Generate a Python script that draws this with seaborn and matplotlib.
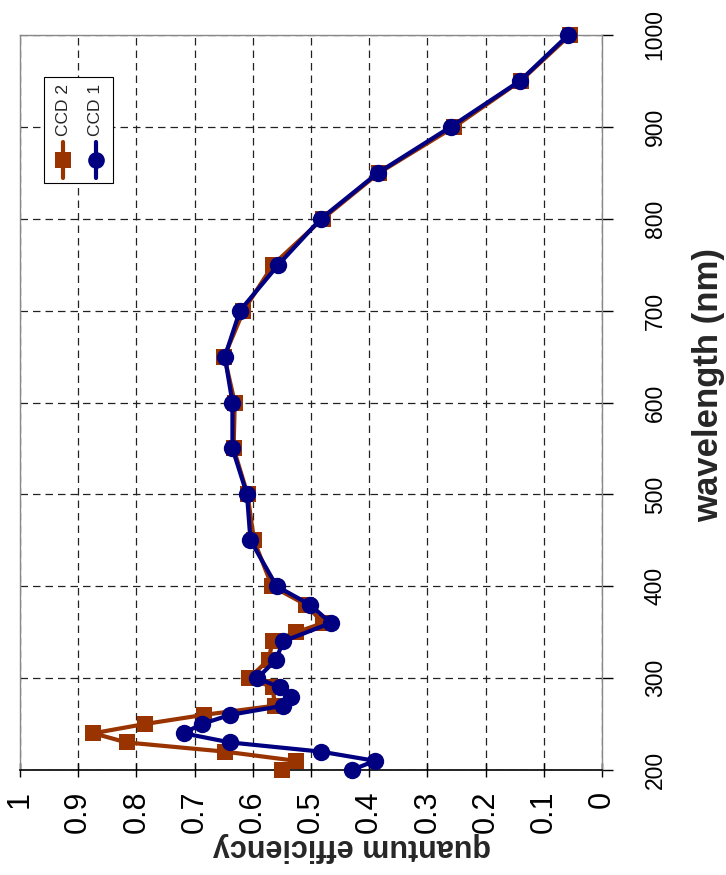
import matplotlib
matplotlib.use("Agg")
import matplotlib.pyplot as plt
import pandas as pd
import seaborn as sns
from matplotlib.lines import Line2D
from matplotlib.patches import Rectangle

# Quantum efficiency of the two CCDs versus wavelength (nm)
wl_ccd1 = [200, 210, 220, 230, 240, 250, 260, 270, 280, 290, 300, 320, 340, 360,
           380, 400, 450, 500, 550, 600, 650, 700, 750, 800, 850, 900, 950, 1000]
qe_ccd1 = [0.43, 0.39, 0.483, 0.639, 0.719, 0.688, 0.639, 0.548, 0.535, 0.554,
           0.592, 0.560, 0.548, 0.466, 0.502, 0.559, 0.604, 0.610, 0.635, 0.635,
           0.648, 0.622, 0.556, 0.483, 0.385, 0.260, 0.141, 0.058]

wl_ccd2 = [200, 210, 220, 230, 240, 250, 260, 270, 290, 300, 320, 340, 350, 360,
           380, 400, 450, 500, 550, 600, 650, 700, 750, 800, 850, 900, 950, 1000]
qe_ccd2 = [0.550, 0.526, 0.648, 0.817, 0.874, 0.786, 0.684, 0.562, 0.566, 0.606,
           0.573, 0.566, 0.525, 0.479, 0.509, 0.567, 0.598, 0.609, 0.633, 0.631,
           0.649, 0.616, 0.565, 0.480, 0.383, 0.254, 0.140, 0.055]

series_names = ["CCD 2", "CCD 1"]
qe_ticks = [1.0, 0.9, 0.8, 0.7, 0.6, 0.5, 0.4, 0.3, 0.2, 0.1, 0.0]
qe_tick_labels = ["1", "0.9", "0.8", "0.7", "0.6", "0.5", "0.4", "0.3", "0.2", "0.1", "0"]
wl_ticks = [200, 300, 400, 500, 600, 700, 800, 900, 1000]
wl_tick_labels = ["200", "300", "400", "500", "600", "700", "800", "900", "1000"]

color_ccd2 = "#993300"
color_ccd1 = "#000080"

sns.set_theme(style="white")
plt.rcParams["font.family"] = ["Liberation Sans", "DejaVu Sans"]

W, H = 726, 875
fig = plt.figure(figsize=(W / 100, H / 100), dpi=100)
fig.patch.set_facecolor("white")


def fx(px):
    return px / W


def fy(py):
    return 1 - py / H


# plot is laid out sideways: efficiency runs right-to-left, wavelength upward
ax = fig.add_axes([fx(20), fy(770), fx(602) - fx(20), fy(35) - fy(770)])
ax.set_facecolor("white")

df2 = pd.DataFrame({"qe": qe_ccd2, "wl": wl_ccd2})
df1 = pd.DataFrame({"qe": qe_ccd1, "wl": wl_ccd1})

sns.lineplot(data=df2, x="qe", y="wl", sort=False, estimator=None, ax=ax,
             color=color_ccd2, linewidth=3.0, marker="s", markersize=12,
             markeredgewidth=0, clip_on=False, zorder=3)
sns.lineplot(data=df1, x="qe", y="wl", sort=False, estimator=None, ax=ax,
             color=color_ccd1, linewidth=3.0, marker="o", markersize=12.5,
             markeredgewidth=0, clip_on=False, zorder=4)

ax.set_xlim(1.0, 0.0)
ax.set_ylim(200, 1000)
ax.set_xlabel("")
ax.set_ylabel("")

ax.set_xticks(qe_ticks)
ax.set_xticklabels(qe_tick_labels, rotation=90, fontsize=22)
ax.yaxis.tick_right()
ax.set_yticks(wl_ticks)
ax.set_yticklabels(wl_tick_labels, rotation=90, fontsize=16.5, va="center")

ax.tick_params(axis="x", direction="inout", length=10, width=1, pad=10,
               colors="black", bottom=True)
ax.tick_params(axis="y", direction="out", length=8, width=1, pad=22,
               colors="black", right=True, left=False)

ax.grid(True, color="#222222", linestyle=(0, (6, 4)), linewidth=0.9)
ax.set_axisbelow(True)

for side in ["left", "top", "right"]:
    ax.spines[side].set_color("#888888")
    ax.spines[side].set_linewidth(1.0)
ax.spines["bottom"].set_color("black")
ax.spines["bottom"].set_linewidth(1.2)

fig.text(fx(352), fy(847), "quantum efficiency", rotation=180, ha="center",
         va="center", fontsize=22, fontweight="bold")
fig.text(fx(709), fy(385), "wavelength (nm)", rotation=90, ha="center",
         va="center", fontsize=25, fontweight="bold")

# legend box, turned with the rest of the chart
fig.add_artist(Rectangle((fx(44), fy(183)), fx(113) - fx(44), fy(77) - fy(183),
                         transform=fig.transFigure, facecolor="white",
                         edgecolor="black", linewidth=0.8, zorder=5))
for xc, name, col, mk in [(63, series_names[0], color_ccd2, "s"),
                          (96, series_names[1], color_ccd1, "o")]:
    fig.text(fx(xc), fy(110), name, rotation=90, ha="center", va="center",
             fontsize=12.5, zorder=6)
    fig.add_artist(Line2D([fx(xc), fx(xc)], [fy(178), fy(142)],
                          transform=fig.transFigure, color=col, linewidth=3.0,
                          zorder=6))
    fig.add_artist(Line2D([fx(xc)], [fy(160)], transform=fig.transFigure,
                          color=col, marker=mk, markersize=12,
                          markeredgewidth=0, linestyle="none", zorder=7))

fig.savefig("out.png", dpi=100, facecolor="white")
